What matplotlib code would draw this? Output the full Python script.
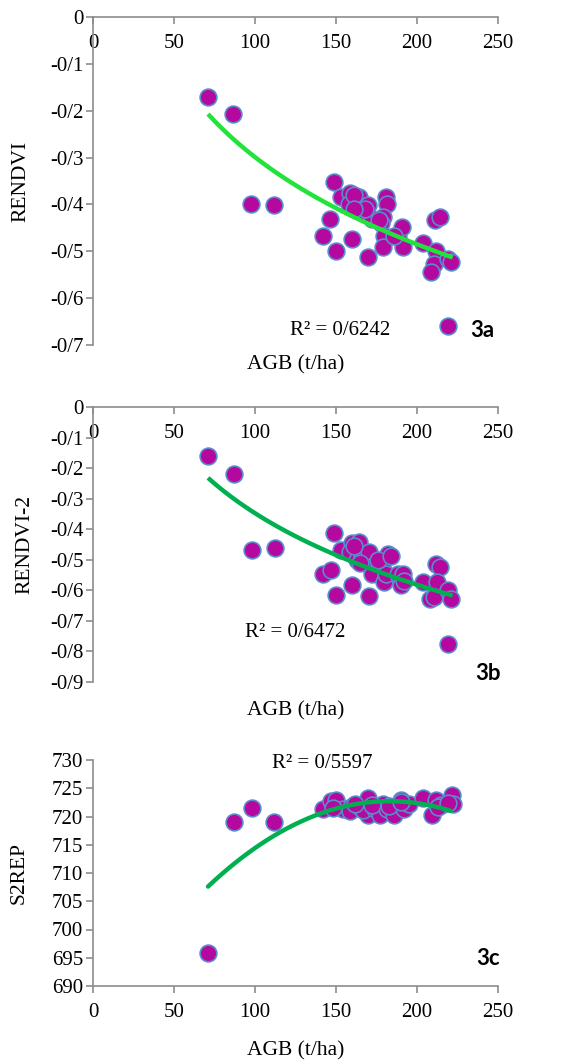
import numpy as np
import matplotlib
matplotlib.use('Agg')
import matplotlib.pyplot as plt
from matplotlib.ticker import FuncFormatter, MultipleLocator

# --- data ---
agb_a = [71, 86.6, 97.8, 112, 148.6, 153, 158.6, 164, 158, 166, 169.8, 172, 180.6, 181.6,
         179, 178, 179.6, 179, 146.6, 141.8, 150, 160, 169.6, 188, 191, 191.6, 203.4, 211,
         214, 212, 210.6, 208.6, 219, 221, 219, 161.4, 168, 176.6, 186, 161]
rendvi = [-0.170, -0.207, -0.400, -0.401, -0.353, -0.385, -0.375, -0.385, -0.399, -0.417,
          -0.402, -0.431, -0.385, -0.400, -0.427, -0.440, -0.468, -0.491, -0.432, -0.467,
          -0.500, -0.474, -0.512, -0.470, -0.449, -0.491, -0.482, -0.434, -0.427, -0.500,
          -0.527, -0.545, -0.516, -0.523, -0.659, -0.379, -0.410, -0.434, -0.467, -0.410]

agb_b = [71, 87.1, 98.4, 112.1, 148.7, 141.7, 147, 150.2, 153.3, 159.7, 163.9, 158.6, 162.8,
         166, 170.3, 160, 170.3, 171.3, 172.4, 178.7, 181.9, 179.8, 180.8, 188.2, 190.3, 191.4,
         204, 208.2, 211.5, 214.2, 212.5, 210.4, 219.2, 220.9, 218.9, 165, 176, 184, 161, 192]
rendvi2 = [-0.160, -0.220, -0.469, -0.460, -0.412, -0.545, -0.534, -0.616, -0.469, -0.445,
           -0.442, -0.474, -0.502, -0.491, -0.474, -0.581, -0.619, -0.524, -0.545, -0.516,
           -0.480, -0.572, -0.545, -0.545, -0.583, -0.545, -0.572, -0.627, -0.514, -0.525,
           -0.572, -0.621, -0.600, -0.627, -0.776, -0.510, -0.500, -0.487, -0.455, -0.570]

agb_c = [70.7, 87, 98, 111.8, 141.7, 147, 150.2, 154.3, 159.5, 158.9, 164.7, 170, 170, 166.8,
         174.1, 177.3, 179.3, 181.5, 185.7, 189.9, 192, 195, 204, 209, 211.8, 215, 221.3, 222.3,
         148, 162, 172, 183, 190, 213, 219]
s2rep = [695.8, 719.1, 721.5, 719.1, 721.3, 722.7, 722.9, 721.4, 721.7, 720.9, 721.7, 723.2,
         720.3, 721.1, 721.4, 720.3, 722.3, 721.4, 720.3, 722.9, 721.4, 722.3, 723.2, 720.3,
         722.9, 722.0, 723.8, 722.3, 721.5, 722.2, 722.0, 721.8, 722.5, 721.6, 722.4]

# trendlines (Excel): log fits for a/b, 2nd order poly for c
trend_a = [-0.2684, 0.937]
trend_b = [-0.3377, 1.2076]
trend_c = [-0.001204, 0.4407, 682.38]
r2_labels = ['R² = 0/6242', 'R² = 0/6472', 'R² = 0/5597']

plt.rcParams['font.family'] = ['Liberation Serif', 'DejaVu Serif']

FACE = '#B5089E'
EDGE = '#5B8BCB'
AXCOL = '#8C8C8C'
TICK_FS = 15
LAB_FS = 15.5
R2_FS = 15
TAG_FS = 16


def slash_fmt(v, pos):
    s = '%g' % round(v, 2)
    if s == '-0':
        s = '0'
    return s.replace('.', '/')


def style_axis(ax, ylim, ystep, cross_top):
    ax.set_xlim(0, 250)
    ax.set_ylim(*ylim)
    ax.xaxis.set_major_locator(MultipleLocator(50))
    ax.yaxis.set_major_locator(MultipleLocator(ystep))
    ax.yaxis.set_major_formatter(FuncFormatter(slash_fmt))
    for s in ['top', 'right']:
        ax.spines[s].set_visible(False)
    for s in ['left', 'bottom']:
        ax.spines[s].set_color(AXCOL)
        ax.spines[s].set_linewidth(1.2)
    if cross_top:
        ax.spines['bottom'].set_position(('data', 0))
    ax.tick_params(axis='both', direction='out', length=5, width=1.2, color=AXCOL,
                   labelsize=TICK_FS, pad=2)
    ax.tick_params(axis='x', pad=7)


fig = plt.figure(figsize=(5.77, 10.62), dpi=100)
L, W = 93 / 577, 405 / 577
H = 1062

ax1 = fig.add_axes([L, 1 - 345 / H, W, 328 / H])
ax2 = fig.add_axes([L, 1 - 682 / H, W, 275 / H])
ax3 = fig.add_axes([L, 1 - 986 / H, W, 226 / H])

xs = np.linspace(71, 222, 120)
mk = dict(s=145, c=FACE, edgecolors=EDGE, linewidths=1.2, zorder=2)

# 3a
ax1.plot(xs, trend_a[0] * np.log(xs) + trend_a[1], color='#22E33A', lw=3.2, zorder=3,
         solid_capstyle='butt')
ax1.scatter(agb_a, rendvi, **mk)
style_axis(ax1, (-0.7, 0), 0.1, True)
ax1.set_ylabel('RENDVI', fontsize=LAB_FS)
ax1.yaxis.set_label_coords(-0.155, 0.5)
ax1.text(0.5, -0.03, 'AGB (t/ha)', transform=ax1.transAxes, ha='center', va='top', fontsize=LAB_FS)
ax1.text(0.61, 0.045, r2_labels[0], transform=ax1.transAxes, ha='center', va='center', fontsize=R2_FS)
ax1.text(0.96, 0.045, '3a', transform=ax1.transAxes, ha='center', va='center', fontsize=TAG_FS,
         fontweight='bold', family='Lato')

# 3b
ax2.plot(xs, trend_b[0] * np.log(xs) + trend_b[1], color='#00B050', lw=3.2, zorder=3,
         solid_capstyle='butt')
ax2.scatter(agb_b, rendvi2, **mk)
style_axis(ax2, (-0.9, 0), 0.1, True)
ax2.set_ylabel('RENDVI-2', fontsize=LAB_FS)
ax2.yaxis.set_label_coords(-0.145, 0.5)
ax2.text(0.5, -0.07, 'AGB (t/ha)', transform=ax2.transAxes, ha='center', va='top', fontsize=LAB_FS)
ax2.text(0.50, 0.18, r2_labels[1], transform=ax2.transAxes, ha='center', va='center', fontsize=R2_FS)
ax2.text(0.975, 0.03, '3b', transform=ax2.transAxes, ha='center', va='center', fontsize=TAG_FS,
         fontweight='bold', family='Lato')

# 3c
ax3.plot(xs[:-1], np.polyval(trend_c, xs[:-1]), color='#00B050', lw=3.2, zorder=3,
         solid_capstyle='round')
ax3.scatter(agb_c, s2rep, **mk)
style_axis(ax3, (690, 730), 5, False)
ax3.set_ylabel('S2REP', fontsize=LAB_FS)
ax3.yaxis.set_label_coords(-0.16, 0.5)
ax3.set_xlabel('AGB (t/ha)', fontsize=LAB_FS, labelpad=14)
ax3.text(0.565, 0.985, r2_labels[2], transform=ax3.transAxes, ha='center', va='center', fontsize=R2_FS)
ax3.text(0.975, 0.12, '3c', transform=ax3.transAxes, ha='center', va='center', fontsize=TAG_FS,
         fontweight='bold', family='Lato')

fig.savefig('out.png', dpi=100)
